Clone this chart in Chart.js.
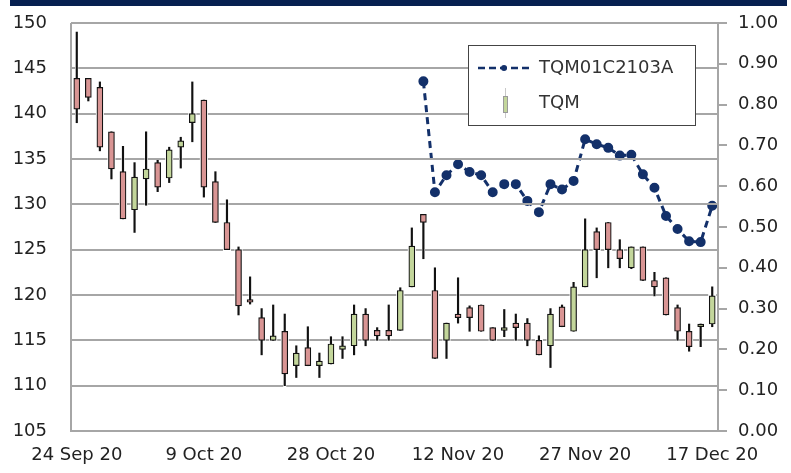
<!DOCTYPE html>
<html>
<head>
<meta charset="utf-8">
<script src="https://cdn.jsdelivr.net/npm/chart.js@4.4.1/dist/chart.umd.min.js"></script>
<style>
  body { margin: 0; background: #fff; }
  #wrap { position: relative; width: 791px; height: 473px; }
</style>
</head>
<body>
<div id="wrap"><canvas id="chart"></canvas></div>
<script>
// trading days shown on the category axis
const dates = [
  '24 Sep 20','25 Sep 20','28 Sep 20','29 Sep 20','30 Sep 20','1 Oct 20','2 Oct 20','5 Oct 20','6 Oct 20','7 Oct 20','8 Oct 20',
  '9 Oct 20','12 Oct 20','14 Oct 20','15 Oct 20','16 Oct 20','19 Oct 20','20 Oct 20','21 Oct 20','22 Oct 20','26 Oct 20','27 Oct 20',
  '28 Oct 20','29 Oct 20','30 Oct 20','2 Nov 20','3 Nov 20','4 Nov 20','5 Nov 20','6 Nov 20','9 Nov 20','10 Nov 20','11 Nov 20',
  '12 Nov 20','13 Nov 20','16 Nov 20','17 Nov 20','18 Nov 20','19 Nov 20','20 Nov 20','23 Nov 20','24 Nov 20','25 Nov 20','26 Nov 20',
  '27 Nov 20','30 Nov 20','1 Dec 20','2 Dec 20','3 Dec 20','4 Dec 20','8 Dec 20','9 Dec 20','14 Dec 20','15 Dec 20','16 Dec 20',
  '17 Dec 20'
];

// TQM prices (left axis)
const tqmOpen  = [143.9,143.9,142.9,138.0,133.6,129.4,132.8,134.6,132.9,136.3,139.0,
                  141.5,132.5,128.0,125.0,119.5,117.5,115.0,116.0,112.2,114.2,112.2,
                  112.4,114.0,114.4,117.9,116.1,116.1,116.1,120.9,128.9,120.5,115.0,
                  117.9,118.6,118.9,116.4,116.1,116.9,116.9,115.0,114.4,118.7,116.0,
                  120.9,127.0,128.0,125.0,123.0,125.3,121.6,121.9,118.6,116.0,116.5,
                  116.8];
const tqmHigh  = [149.0,143.9,143.5,138.0,136.4,134.6,138.0,134.9,136.3,137.4,143.5,
                  141.5,133.6,130.5,125.3,122.0,118.5,118.9,117.9,114.4,116.5,113.6,
                  115.4,115.4,118.9,118.5,116.4,118.9,120.8,127.4,128.9,123.0,116.9,
                  121.9,118.8,118.9,116.4,118.4,117.9,117.4,115.5,118.5,118.9,121.4,
                  128.4,127.4,128.0,126.1,125.3,125.3,122.5,121.9,118.9,116.8,116.8,
                  120.9];
const tqmLow   = [139.0,141.4,135.9,132.8,128.4,126.9,129.9,131.4,132.4,134.0,136.9,
                  130.8,128.0,125.0,117.8,119.0,113.4,115.0,110.0,110.9,112.2,110.9,
                  112.4,113.0,113.4,114.4,115.0,115.0,116.1,120.9,124.0,113.0,113.0,
                  116.9,116.0,116.0,115.0,115.4,115.0,114.4,113.4,112.0,116.5,116.0,
                  120.9,121.9,123.0,123.0,122.9,121.6,119.9,117.8,115.0,113.8,114.3,
                  116.5];
const tqmClose = [140.5,141.8,136.3,133.9,128.4,133.0,133.9,131.9,136.0,137.0,140.0,
                  131.9,128.0,125.0,118.8,119.2,115.0,115.5,111.3,113.6,112.2,112.7,
                  114.6,114.4,117.9,115.0,115.5,115.5,120.5,125.4,128.0,113.0,116.9,
                  117.5,117.5,116.0,115.0,116.4,116.4,115.0,113.4,117.9,116.5,120.9,
                  125.0,125.0,125.0,124.0,125.3,121.6,120.9,117.8,116.0,114.3,116.8,
                  119.9];

// TQM01C2103A derivative warrant (right axis), listed from 9 Nov
const dwPrice = [null,null,null,null,null,null,null,null,null,null,
                 null,null,null,null,null,null,null,null,null,null,
                 null,null,null,null,null,null,null,null,null,null,
                 0.857,0.585,0.627,0.654,0.635,0.627,0.585,0.605,0.605,0.564,
                 0.536,0.605,0.592,0.613,0.715,0.703,0.694,0.675,0.677,0.629,
                 0.596,0.527,0.495,0.465,0.463,0.552];

const leftTicks = { min: 105, max: 150, step: 5 };
const rightTicks = { min: 0, max: 1, step: 0.1 };

const UP = '#c3d69b', DOWN = '#d99594', NAVY = '#13306a';
const candleColors = tqmOpen.map((o, i) => tqmClose[i] >= o ? UP : DOWN);
const GRID = '#a6a6a6';
const FONT = { family: 'DejaVu Sans', size: 18 };

// grid + axis lines, drawn last but leaving gaps where a candle sits on the line
const frame = {
  id: 'frame',
  afterDraw(chart) {
    const { ctx, chartArea: a, scales: { x, y, y1 } } = chart;
    ctx.save();
    ctx.globalCompositeOperation = 'source-over';
    ctx.globalAlpha = 1;
    ctx.setLineDash([]);
    ctx.strokeStyle = GRID;
    ctx.lineWidth = 2;
    ctx.beginPath();
    y.ticks.forEach(t => {
      const v = t.value;
      const py = Math.round(y.getPixelForValue(v));
      const gaps = [];
      tqmOpen.forEach((o, i) => {
        const cx = x.getPixelForValue(i);
        const lo = Math.min(o, tqmClose[i]), hi = Math.max(o, tqmClose[i]);
        if (v >= lo - 0.15 && v <= hi + 0.15) gaps.push([cx - 4, cx + 4]);
        else if (v >= tqmLow[i] && v <= tqmHigh[i]) gaps.push([cx - 1.5, cx + 1.5]);
      });
      let sx = a.left;
      gaps.forEach(([g0, g1]) => {
        if (g0 > sx) { ctx.moveTo(sx, py); ctx.lineTo(g0, py); }
        sx = Math.max(sx, g1);
      });
      ctx.moveTo(sx, py); ctx.lineTo(a.right, py);
    });
    y1.ticks.forEach(t => {
      const py = Math.round(y1.getPixelForValue(t.value));
      ctx.moveTo(a.right, py); ctx.lineTo(a.right + 9, py);
    });
    ctx.moveTo(a.left, a.top); ctx.lineTo(a.left, a.bottom + 1);
    ctx.moveTo(a.right, a.top); ctx.lineTo(a.right, a.bottom + 1);
    ctx.stroke();
    ctx.restore();
  }
};

// header strip and the boxed legend
const decor = {
  id: 'decor',
  afterDraw(chart) {
    const { ctx } = chart;
    ctx.save();
    ctx.fillStyle = '#062050';
    ctx.fillRect(10, 0, 777, 6);

    const bx = 468, by = 45, bw = 228, bh = 81;
    ctx.fillStyle = '#fff';
    ctx.fillRect(bx, by, bw, bh);
    ctx.strokeStyle = '#444';
    ctx.lineWidth = 1;
    ctx.strokeRect(bx + 0.5, by + 0.5, bw - 1, bh - 1);

    ctx.strokeStyle = NAVY;
    ctx.lineWidth = 2.5;
    ctx.setLineDash([7, 4]);
    ctx.beginPath(); ctx.moveTo(bx + 10, by + 23); ctx.lineTo(bx + 62, by + 23); ctx.stroke();
    ctx.setLineDash([]);
    ctx.fillStyle = NAVY;
    ctx.beginPath(); ctx.arc(bx + 36, by + 23, 3, 0, Math.PI * 2); ctx.fill();

    ctx.strokeStyle = '#c8c8c8';
    ctx.lineWidth = 1;
    ctx.beginPath(); ctx.moveTo(bx + 37.5, by + 43); ctx.lineTo(bx + 37.5, by + 73); ctx.stroke();
    ctx.fillStyle = UP;
    ctx.fillRect(bx + 35, by + 51, 5, 17);
    ctx.strokeStyle = '#999';
    ctx.strokeRect(bx + 35.5, by + 51.5, 4, 16);

    ctx.fillStyle = '#333';
    ctx.font = '18px "DejaVu Sans"';
    ctx.textBaseline = 'middle';
    ctx.fillText('TQM01C2103A', bx + 71, by + 23);
    ctx.fillText('TQM', bx + 71, by + 58);
    ctx.restore();
  }
};

const noPadV = s => { s.paddingTop = 0; s.paddingBottom = 0; };

new Chart(document.getElementById('chart'), {
  type: 'bar',
  data: {
    labels: dates,
    datasets: [
      {
        type: 'line', label: 'TQM01C2103A', yAxisID: 'y1',
        data: dwPrice,
        borderColor: NAVY, borderWidth: 3, borderDash: [7, 5], fill: false,
        pointRadius: 3.5, pointBackgroundColor: NAVY, pointBorderColor: NAVY,
        tension: 0
      },
      {
        type: 'bar', label: 'TQM', yAxisID: 'y', grouped: false,
        data: tqmOpen.map((o, i) => [o, tqmClose[i]]),
        backgroundColor: candleColors, borderColor: '#111',
        borderWidth: 1.2, borderSkipped: false, barThickness: 6
      },
      {
        type: 'bar', label: 'wick', yAxisID: 'y', grouped: false,
        data: tqmLow.map((l, i) => [l, tqmHigh[i]]),
        backgroundColor: '#111', borderWidth: 0, barThickness: 1.5
      }
    ]
  },
  options: {
    responsive: true, maintainAspectRatio: false, animation: false,
    layout: { padding: { top: 23, left: 0, right: 0, bottom: 0 } },
    plugins: { legend: { display: false } },
    scales: {
      x: {
        offset: true,
        grid: { display: false, drawTicks: false },
        border: { display: false },
        ticks: {
          autoSkip: false, maxRotation: 0, padding: 14, color: '#222', font: FONT,
          callback: (v, i) => i % 11 === 0 ? dates[i] : ''
        },
        afterFit: s => { s.height = 42; s.paddingLeft = 0; s.paddingRight = 0; }
      },
      y: {
        position: 'left', min: leftTicks.min, max: leftTicks.max,
        grid: { display: false, drawTicks: false },
        border: { display: false },
        ticks: { stepSize: leftTicks.step, padding: 24, color: '#222', font: FONT },
        afterFit: s => { s.width = 71; noPadV(s); }
      },
      y1: {
        position: 'right', min: rightTicks.min, max: rightTicks.max,
        grid: { display: false, drawTicks: false },
        border: { display: false },
        ticks: { stepSize: rightTicks.step, padding: 20, color: '#222', font: FONT,
                 callback: v => v.toFixed(2) },
        afterFit: s => { s.width = 73; noPadV(s); }
      }
    }
  },
  plugins: [frame, decor]
});
</script>
</body>
</html>
